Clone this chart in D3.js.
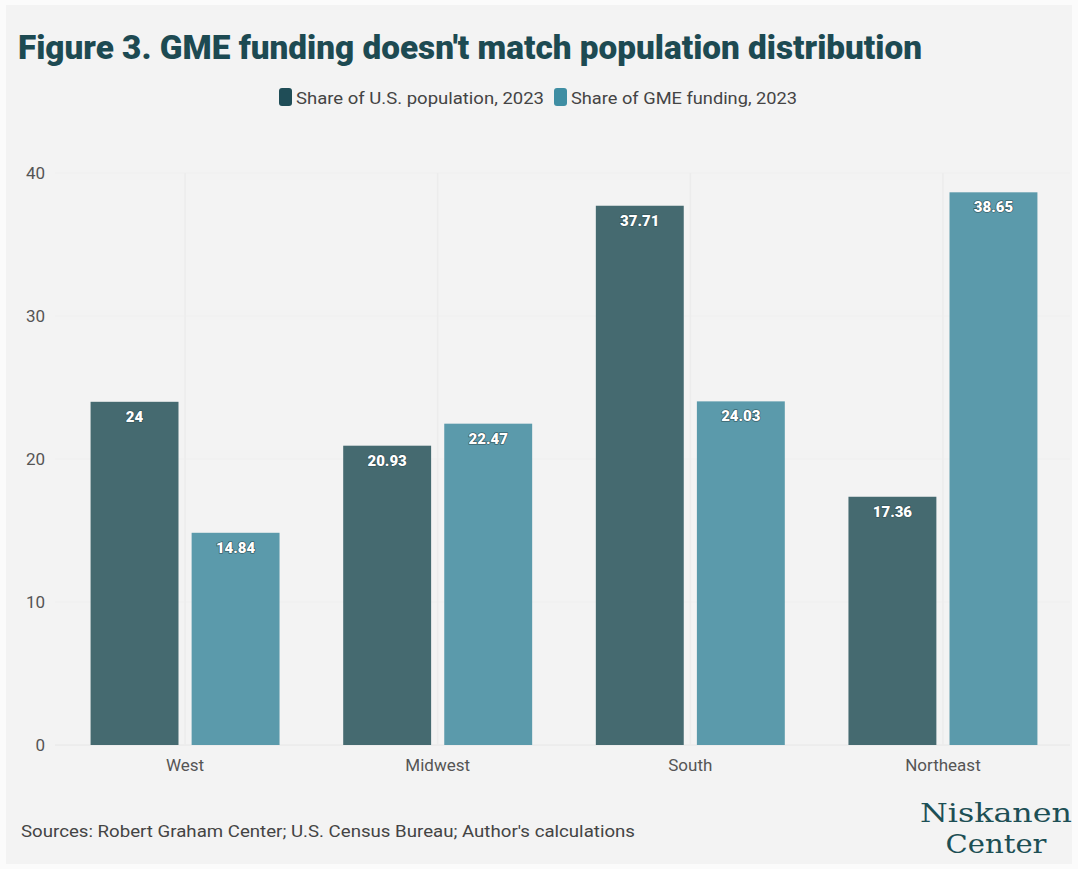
<!DOCTYPE html>
<html><head><meta charset="utf-8">
<script src="https://cdn.jsdelivr.net/npm/d3@7"></script>
<style>body{margin:0;background:#fff}svg{display:block}</style>
</head><body>
<svg id="chart" width="1078" height="869"></svg>
<script>
const categories = ["West", "Midwest", "South", "Northeast"];
const seriesNames = ["Share of U.S. population, 2023", "Share of GME funding, 2023"];
const population = [24, 20.93, 37.71, 17.36];
const funding = [14.84, 22.47, 24.03, 38.65];
const yTicks = [0, 10, 20, 30, 40];
const labels = ["24", "20.93", "37.71", "17.36"];
const labels2 = ["14.84", "22.47", "24.03", "38.65"];

const svg = d3.select("#chart");
const W = 1078, H = 869;
const font = "Roboto, 'Noto Sans', sans-serif";
svg.append("rect").attr("x",0).attr("y",0).attr("width",W).attr("height",H).attr("fill","#fbfbfb");
svg.append("rect").attr("x",6).attr("y",5).attr("width",W-12).attr("height",H-10).attr("fill","#f3f3f3");

const barColors = ["#456a70", "#5b9aab"];
const swatchColors = ["#1f4d57", "#3f8ea3"];

// title
const title = svg.append("text").attr("x",18).attr("y",59)
  .attr("font-family",font).attr("font-weight",900).attr("font-size",33)
  .attr("fill","#1d4a52").text("Figure 3. GME funding doesn't match population distribution");
title.attr("textLength",904).attr("lengthAdjust","spacingAndGlyphs");

// legend
const legG = svg.append("g");
let lx = 279;
const legTargets = [248, 226];
seriesNames.forEach((s,i)=>{
  legG.append("rect").attr("x",lx).attr("y",88).attr("width",13).attr("height",18).attr("rx",3).attr("fill",swatchColors[i]);
  legG.append("text").attr("x",lx+17).attr("y",104).attr("font-family",font).attr("font-size",17)
    .attr("fill","#444").text(s).attr("textLength",legTargets[i]).attr("lengthAdjust","spacingAndGlyphs");
  lx = lx + 17 + legTargets[i] + 10;
});

// scales
const y = d3.scaleLinear().domain([0,40]).range([745,173]);
const x0 = d3.scaleBand().domain(categories).range([59,1069]).paddingInner(0.252).paddingOuter(0.125);
const x1 = d3.scaleBand().domain([0,1]).range([0,x0.bandwidth()]).paddingInner(0.13);

// grid
const grid = svg.append("g");
yTicks.forEach(t=>{
  grid.append("line").attr("x1",55).attr("x2",1070).attr("y1",y(t)).attr("y2",y(t))
    .attr("stroke", t===0 ? "#e6e6e6" : "#efefef").attr("stroke-width",1);
});
categories.forEach(c=>{
  const cx = x0(c)+x0.bandwidth()/2;
  grid.append("line").attr("x1",cx).attr("x2",cx).attr("y1",y(40)).attr("y2",y(0))
    .attr("stroke","#ececec").attr("stroke-width",1.5);
});

// y axis labels
const yAxis = svg.append("g").attr("transform","translate(45,0)")
  .call(d3.axisLeft(y).tickValues(yTicks).tickSize(0).tickPadding(0));
yAxis.select(".domain").remove();
yAxis.selectAll("text").attr("font-family",font).attr("font-size",17).attr("fill","#555");

// x axis labels
const xAxis = svg.append("g").attr("transform","translate(0,745)")
  .call(d3.axisBottom(x0).tickSize(0).tickPadding(14));
xAxis.select(".domain").remove();
xAxis.selectAll("text").attr("font-family",font).attr("font-size",17).attr("fill","#555");

// bars
const series = [population, funding];
const lab = [labels, labels2];
const bars = svg.append("g");
categories.forEach((c,ci)=>{
  series.forEach((vals,si)=>{
    const bx = x0(c)+x1(si);
    bars.append("rect").attr("x",bx).attr("y",y(vals[ci])).attr("width",x1.bandwidth())
      .attr("height",y(0)-y(vals[ci])).attr("fill",barColors[si]);
    bars.append("text").attr("x",bx+x1.bandwidth()/2).attr("y",y(vals[ci])+20)
      .attr("text-anchor","middle").attr("font-family",font).attr("font-weight",900).attr("font-size",15)
      .attr("fill","#fff").attr("stroke","#2f4f55").attr("stroke-width",1.2).attr("paint-order","stroke")
      .text(lab[si][ci]);
  });
});

// source
svg.append("text").attr("x",21).attr("y",837).attr("font-family",font).attr("font-size",16.5)
  .attr("fill","#444").text("Sources: Robert Graham Center; U.S. Census Bureau; Author's calculations")
  .attr("textLength",614).attr("lengthAdjust","spacingAndGlyphs");

// logo
const logo = svg.append("g").attr("font-family","'DejaVu Serif', 'Liberation Serif', serif")
  .attr("fill","#1d4f55").attr("text-anchor","middle").attr("font-size",26.5);
logo.append("text").attr("x",996).attr("y",822).text("Niskanen")
  .attr("textLength",152).attr("lengthAdjust","spacingAndGlyphs");
logo.append("text").attr("x",996).attr("y",853).text("Center")
  .attr("textLength",101).attr("lengthAdjust","spacingAndGlyphs");
</script>
</body></html>
